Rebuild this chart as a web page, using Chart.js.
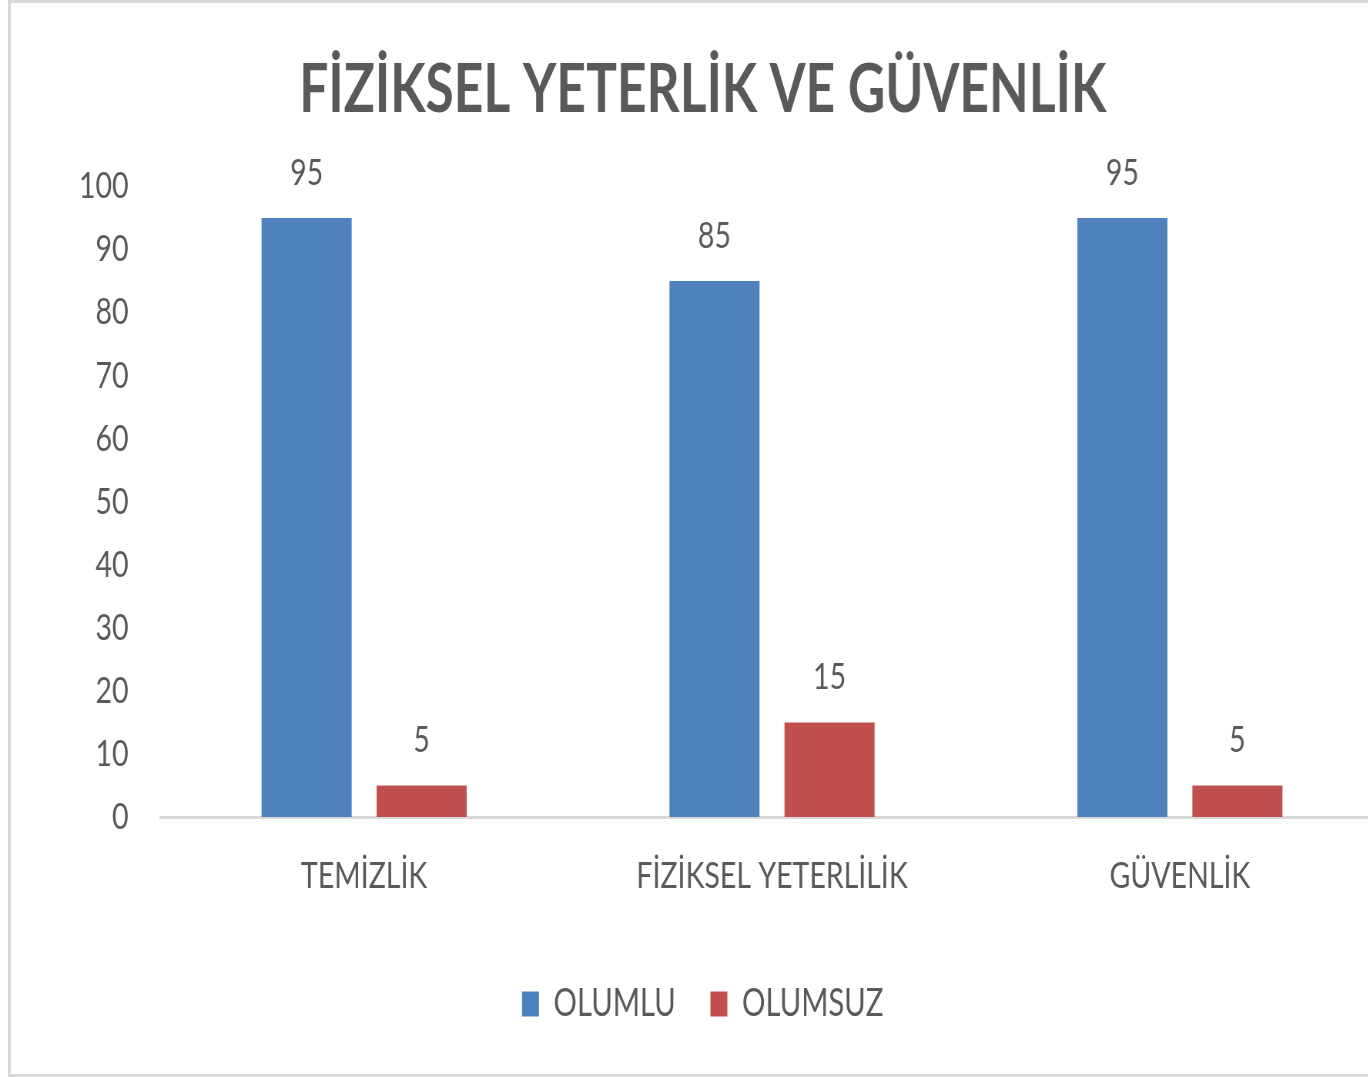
<!DOCTYPE html>
<html>
<head>
<meta charset="utf-8">
<title>FİZİKSEL YETERLİK VE GÜVENLİK</title>
<script src="https://cdn.jsdelivr.net/npm/chart.js@4/dist/chart.umd.min.js"></script>
<style>
  html, body { margin: 0; padding: 0; background: #fff; overflow: hidden; width: 1368px; height: 1077px; }
  #frame { position: absolute; left: 8px; top: 0; width: 1400px; height: 1077px; box-sizing: border-box; border: 3px solid #d9d9d9; border-right: none; }
  #bar-chart { position: absolute; left: 0; top: 0; }
</style>
</head>
<body>
<div id="frame"></div>
<!-- drawn wider then squeezed, the source picture is horizontally compressed -->
<canvas id="bar-chart" width="1805" height="1077" style="width:1390px;height:1077px"></canvas>
<script>
const categories = ['TEMİZLİK', 'FİZİKSEL YETERLİLİK', 'GÜVENLİK'];
const olumlu = [95, 85, 95];
const olumsuz = [5, 15, 5];
const yTicks = [0, 10, 20, 30, 40, 50, 60, 70, 80, 90, 100];

const textColor = '#595959';

// value labels above every bar
const barLabels = {
  id: 'barLabels',
  afterDatasetsDraw(chart) {
    const ctx = chart.ctx;
    ctx.save();
    ctx.font = '37px Lato';
    ctx.fillStyle = textColor;
    ctx.textAlign = 'center';
    ctx.textBaseline = 'alphabetic';
    chart.data.datasets.forEach((ds, i) => {
      chart.getDatasetMeta(i).data.forEach((bar, j) => {
        ctx.fillText(ds.data[j], bar.x, bar.y - 33);
      });
    });
    ctx.restore();
  }
};

new Chart(
  document.getElementById('bar-chart'),
  {
    type: 'bar',
    data: {
      labels: categories,
      datasets: [
        {
          label: 'OLUMLU',
          data: olumlu,
          backgroundColor: '#4F81BD',
          borderWidth: 0,
          categoryPercentage: 0.564,
          barPercentage: 0.783
        },
        {
          label: 'OLUMSUZ',
          data: olumsuz,
          backgroundColor: '#C0504D',
          borderWidth: 0,
          categoryPercentage: 0.564,
          barPercentage: 0.783
        }
      ]
    },
    options: {
      responsive: false,
      animation: false,
      layout: { padding: { left: 28, right: 8, top: 0, bottom: 44 } },
      plugins: {
        title: {
          display: true,
          text: 'FİZİKSEL YETERLİK VE GÜVENLİK',
          color: textColor,
          font: { family: 'Lato', size: 67, weight: 'bold', lineHeight: 1.2 },
          padding: { top: 50, bottom: 56 }
        },
        legend: {
          position: 'bottom',
          labels: {
            color: textColor,
            font: { family: 'Lato', size: 38 },
            boxWidth: 22,
            boxHeight: 25,
            padding: 45
          }
        },
        tooltip: { enabled: false }
      },
      scales: {
        x: {
          grid: { display: false, drawTicks: false },
          border: { display: true, color: '#d9d9d9', width: 3 },
          ticks: {
            color: textColor,
            font: { family: 'Lato', size: 37 },
            padding: 37,
            maxRotation: 0
          },
          afterFit: (scale) => { scale.height = 123; }
        },
        y: {
          min: 0,
          max: 100,
          grid: { display: false, drawTicks: false },
          border: { display: false },
          ticks: {
            stepSize: 10,
            color: textColor,
            font: { family: 'Lato', size: 37 },
            padding: 41,
            callback: (v) => yTicks.includes(v) ? v : ''
          },
          afterFit: (scale) => { scale.width = 180; }
        }
      }
    },
    plugins: [barLabels]
  }
);
</script>
</body>
</html>
